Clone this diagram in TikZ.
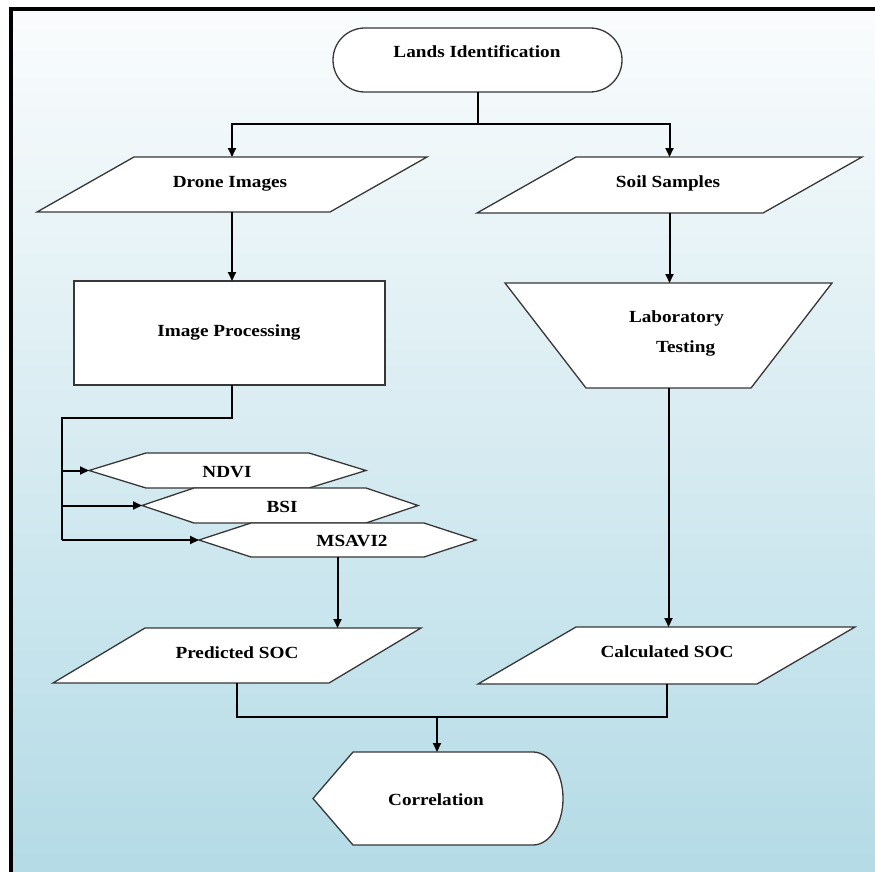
\documentclass[tikz,border=0pt]{standalone}
\usepackage{fontspec}
\setmainfont{Liberation Serif}[FakeStretch=1.13]
\usetikzlibrary{arrows.meta,calc}
\definecolor{bgtop}{RGB}{250,252,253}
\definecolor{bgbot}{RGB}{180,219,230}
\definecolor{edgecol}{RGB}{55,55,55}
\begin{document}
\begin{tikzpicture}[x=1pt,y=-1pt,
  fr/.style args={#1x#2}{minimum width=#1pt, minimum height=#2pt, inner sep=0pt, outer sep=0pt, draw=none},
  shp/.style={draw=edgecol, line width=1.3pt, fill=white, line join=miter},
  txt/.style={anchor=base, inner sep=0pt, font=\fontsize{17}{30}\selectfont\bfseries},
  conn/.style={draw=black, line width=2pt},
  arr/.style={conn, -{Triangle[length=9pt,width=8pt]}}
]
\useasboundingbox (0,0) rectangle (875,872);
\fill[white] (0,0) rectangle (875,872);
\shade[top color=bgtop, bottom color=bgbot] (12,11) rectangle (875,872);
\fill[black] (8.5,7) rectangle (875,11.5);
\fill[black] (8.5,7) rectangle (12.5,872);

% frame nodes (bounding boxes of the shapes)
\node[fr=289x64] (lands) at (477.5,60) {};
\node[fr=390x55] (drone) at (232,184.5) {};
\node[fr=385x56] (soil) at (669.5,185) {};
\node[fr=311x104] (ip) at (229.5,333) {};
\node[fr=327x105] (lab) at (668.5,335.5) {};
\node[fr=277x35] (ndvi) at (227.5,470.5) {};
\node[fr=276x35] (bsi) at (280,505.5) {};
\node[fr=277x34] (msavi) at (337.5,540) {};
\node[fr=368x55] (pred) at (237,655.5) {};
\node[fr=377x57] (calc) at (666.5,655.5) {};
\node[fr=250x93] (corr) at (438,798.5) {};

% shapes
\draw[shp, rounded corners=31.9pt] (lands.north west) rectangle (lands.south east);
\draw[shp] ([xshift=97pt]drone.north west) -- (drone.north east) -- ([xshift=-97pt]drone.south east) -- (drone.south west) -- cycle;
\draw[shp] ([xshift=99pt]soil.north west) -- (soil.north east) -- ([xshift=-99pt]soil.south east) -- (soil.south west) -- cycle;
\draw[shp] (ip.north west) rectangle (ip.south east);
\draw[shp] (lab.north west) -- (lab.north east) -- ([xshift=-81pt]lab.south east) -- ([xshift=81pt]lab.south west) -- cycle;
\draw[shp] (ndvi.west) -- ([xshift=57pt]ndvi.north west) -- ([xshift=-57pt]ndvi.north east) -- (ndvi.east) -- ([xshift=-57pt]ndvi.south east) -- ([xshift=57pt]ndvi.south west) -- cycle;
\draw[shp] (bsi.west) -- ([xshift=52pt]bsi.north west) -- ([xshift=-52pt]bsi.north east) -- (bsi.east) -- ([xshift=-52pt]bsi.south east) -- ([xshift=52pt]bsi.south west) -- cycle;
\draw[shp] (msavi.west) -- ([xshift=52pt]msavi.north west) -- ([xshift=-52pt]msavi.north east) -- (msavi.east) -- ([xshift=-52pt]msavi.south east) -- ([xshift=52pt]msavi.south west) -- cycle;
\draw[shp] ([xshift=92pt]pred.north west) -- (pred.north east) -- ([xshift=-92pt]pred.south east) -- (pred.south west) -- cycle;
\draw[shp] ([xshift=98pt]calc.north west) -- (calc.north east) -- ([xshift=-98pt]calc.south east) -- (calc.south west) -- cycle;
\draw[shp] (corr.west) -- ([xshift=40pt]corr.north west) -- ([xshift=-30pt]corr.north east)
  arc[x radius=30pt, y radius=46.5pt, start angle=90, end angle=-90]
  -- ([xshift=40pt]corr.south west) -- cycle;

% texts
\node[txt] (tlands) at (477,58) {Lands Identification};
\node[txt] (tdrone) at (230,187) {Drone Images};
\node[txt] (tsoil) at (668,187) {Soil Samples};
\node[txt] (tip) at (229,336) {Image Processing};
\node[txt, anchor=center, align=left] (tlab) at (676.5,333) {Laboratory\\\hspace*{27pt}Testing};
\node[txt] (tndvi) at (227,477) {NDVI};
\node[txt] (tbsi) at (282,512) {BSI};
\node[txt] (tmsavi) at (352,546) {MSAVI2};
\node[txt] (tpred) at (237,658) {Predicted SOC};
\node[txt] (tcalc) at (667,657) {Calculated SOC};
\node[txt] (tcorr) at (436,805) {Correlation};

% connectors
\draw[conn] (lands.south) -- ++(0,32) coordinate (j1);
\draw[arr] (j1) -| (drone.north);
\draw[arr] (j1) -| (soil.north);
\draw[arr] (drone.south) -- (drone.south |- ip.north);
\draw[arr] (soil.south) -- (soil.south |- lab.north);
\coordinate (bus) at (62,418);
\draw[conn] (drone.south |- ip.south) |- (bus) -- (bus |- msavi.west);
\draw[arr] (bus |- ndvi.west) -- (ndvi.west);
\draw[arr] (bus |- bsi.west) -- (bsi.west);
\draw[arr] (bus |- msavi.west) -- (msavi.west);
\draw[arr] (msavi.south) -- (msavi.south |- pred.north);
\draw[arr] (lab.south) -- (lab.south |- calc.north);
\coordinate (j2) at (437,717);
\draw[conn] (pred.south) |- (j2) -| (calc.south);
\draw[arr] (j2) -- (j2 |- corr.north);
\end{tikzpicture}
\end{document}
